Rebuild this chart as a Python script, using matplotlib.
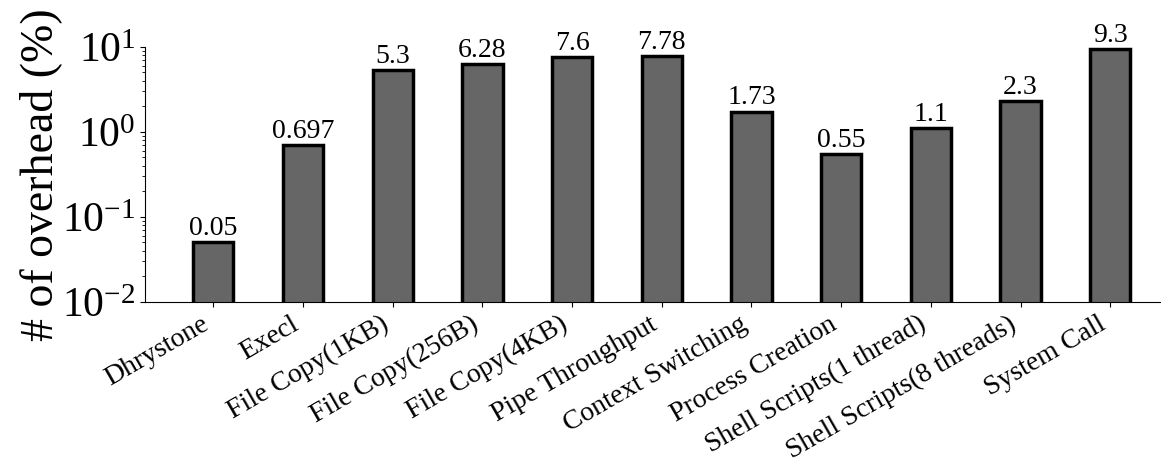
import numpy as np
import matplotlib
matplotlib.use("Agg")
import matplotlib.pyplot as plt

# ── Data ───────────────────────────────────────────────────────────────────────
benchmarks = ["Dhrystone", "Execl", "File Copy(1KB)", "File Copy(256B)",
              "File Copy(4KB)", "Pipe Throughput", "Context Switching",
              "Process Creation", "Shell Scripts(1 thread)",
              "Shell Scripts(8 threads)", "System Call"]
overhead = [0.05, 0.697, 5.3, 6.28, 7.6, 7.78, 1.73, 0.55, 1.1, 2.3, 9.3]
value_labels = ["0.05", "0.697", "5.3", "6.28", "7.6", "7.78", "1.73",
                "0.55", "1.1", "2.3", "9.3"]

plt.rcParams['font.family'] = ['Liberation Serif', 'DejaVu Serif']
plt.rcParams['mathtext.fontset'] = 'custom'
plt.rcParams['mathtext.rm'] = 'Liberation Serif'
plt.rcParams['mathtext.it'] = 'Liberation Serif:italic'
plt.rcParams['mathtext.bf'] = 'Liberation Serif:bold'

fig = plt.figure(figsize=(11.61, 4.63), dpi=100)
# axes runs slightly past the right edge, as in the original crop
ax = fig.add_axes([0.125, 0.348, 0.89, 0.551])

x = np.arange(len(benchmarks))
ax.bar(x, overhead, width=0.45, color="#666666",
       edgecolor="black", linewidth=2.5)

for xi, v, lab in zip(x, overhead, value_labels):
    ax.text(xi, v * 1.03, lab, ha="center", va="bottom", fontsize=20)

ax.set_yscale("log")
ax.set_ylim(1e-2, 1e1)
ax.set_xlim(-0.76, len(benchmarks) - 1 + 0.76)
ax.set_xticks(x)
ax.set_xticklabels(benchmarks, rotation=30, ha="right", fontsize=20)
ax.tick_params(axis="y", labelsize=30)
ax.set_ylabel("# of overhead (%)", fontsize=33, labelpad=0)

ax.spines["top"].set_visible(False)
ax.spines["right"].set_visible(False)

plt.savefig("out.png", dpi=100)
